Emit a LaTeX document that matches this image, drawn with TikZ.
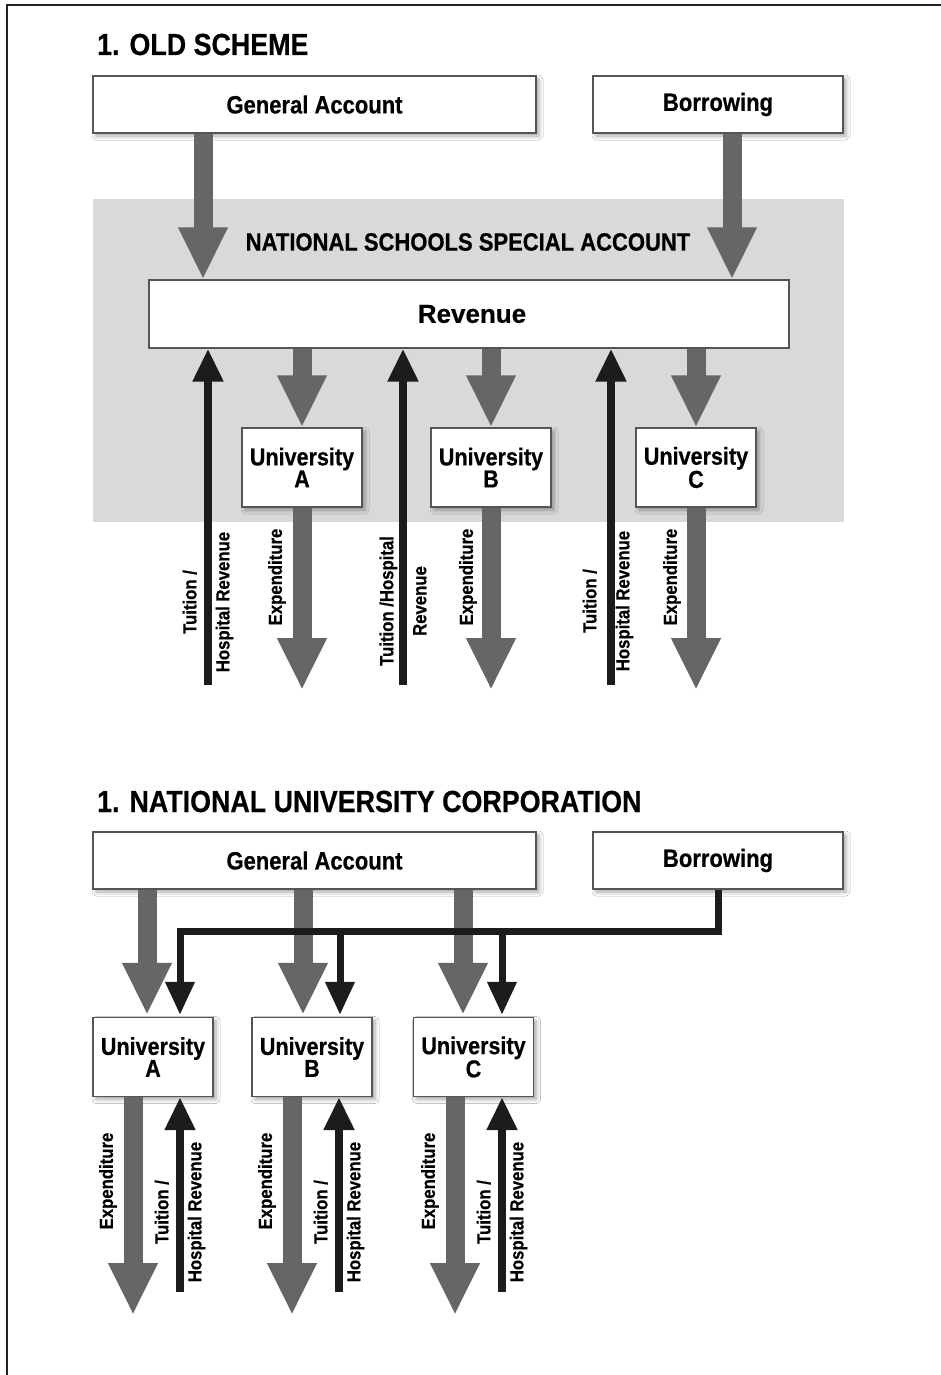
\documentclass[tikz,border=0pt]{standalone}
\usepackage{fontspec}
\setmainfont{Liberation Sans}[FakeStretch=0.88, BoldFeatures={FakeBold=0.5}]
\newfontfamily\widefont{Liberation Sans}[BoldFeatures={FakeBold=0.4}]
\usetikzlibrary{arrows.meta,shadows,shadows.blur}
\definecolor{bggray}{HTML}{D9D9D9}
\definecolor{arrgray}{HTML}{666666}
\definecolor{arrblack}{HTML}{1C1C1C}
\definecolor{boxline}{HTML}{555555}
\definecolor{frame}{HTML}{222222}
\tikzset{
  box/.style={draw=boxline, line width=1.3pt, fill=white, inner sep=0pt,
    blur shadow={shadow xshift=3pt, shadow yshift=-3pt, shadow blur radius=4pt, shadow opacity=35}},
  plainbox/.style={draw=boxline, line width=1.3pt, fill=white, inner sep=0pt},
  boxtext/.style={font=\bfseries\fontsize{25}{28}\selectfont},
  unitext/.style={font=\bfseries\fontsize{24.5}{22}\selectfont, align=center},
  titletext/.style={font=\bfseries\fontsize{30.5}{32}\selectfont, anchor=base west, inner sep=0pt},
  lbl/.style={font=\bfseries\fontsize{19}{33}\selectfont, rotate=90, align=center, inner sep=0pt},
  garrow/.style={draw=arrgray, line width=19pt, -{Triangle[width=46pt,length=52pt]}, arrgray},
  barrow/.style={draw=arrblack, line width=8pt, -{Triangle[width=29pt,length=33pt]}, arrblack},
  bline/.style={draw=arrblack, line width=7pt, line join=miter},
  barrowt/.style={draw=arrblack, line width=7pt, -{Triangle[width=28pt,length=33pt]}, arrblack},
}
\begin{document}
\begin{tikzpicture}[x=1pt,y=-1pt]
\useasboundingbox (0,0) rectangle (941,1375);
\fill[white] (0,0) rectangle (941,1375);
\draw[frame, line width=2.5pt] (941,5) -- (7,5) -- (7,1375);

% ---------- Section 1 ----------
\node[titletext] (t1) at (97,55) {1. OLD SCHEME};
\fill[bggray] (93,199) rectangle (844,522);
\node[font=\bfseries\fontsize{25}{28}\selectfont] (nssa) at (468,242) {NATIONAL SCHOOLS SPECIAL ACCOUNT};

\node[box, minimum width=443pt, minimum height=57pt, boxtext] (ga1) at (314.5,104.5) {General Account};
\node[box, minimum width=250pt, minimum height=57pt, boxtext] (bo1) at (718,104.5) {Borrowing};
\node[plainbox, minimum width=640pt, minimum height=68pt, font=\widefont\bfseries\fontsize{26}{28}\selectfont] (rev) at (469,314) {\hspace*{6pt}Revenue};

\node[box, minimum width=120pt, minimum height=79pt, unitext] (ua1) at (302,467.5) {University\\A};
\node[box, minimum width=120pt, minimum height=79pt, unitext] (ub1) at (491,467.5) {University\\B};
\node[box, minimum width=120pt, minimum height=79pt, unitext] (uc1) at (696,467.5) {University\\C};

\coordinate (g1) at (203,0);
\coordinate (g2) at (732,0);
\draw[garrow] (ga1.south -| g1) -- (rev.north -| g1);
\draw[garrow] (bo1.south -| g2) -- (rev.north -| g2);

\draw[garrow] (rev.south -| ua1) -- (ua1.north);
\draw[garrow] (rev.south -| ub1) -- (ub1.north);
\draw[garrow] (rev.south -| uc1) -- (uc1.north);

\coordinate (ea1) at (302,690);
\coordinate (eb1) at (491,690);
\coordinate (ec1) at (696,690);
\draw[garrow] (ua1.south) -- (ea1);
\draw[garrow] (ub1.south) -- (eb1);
\draw[garrow] (uc1.south) -- (ec1);

\coordinate (ta1) at (208,685);
\coordinate (tb1) at (403,685);
\coordinate (tc1) at (611,685);
\draw[barrow] (ta1) -- (rev.south -| ta1);
\draw[barrow] (tb1) -- (rev.south -| tb1);
\draw[barrow] (tc1) -- (rev.south -| tc1);

\node[lbl] (la1) at (208,602) {Tuition /\\Hospital Revenue};
\node[lbl] (lb1) at (403,601) {Tuition /Hospital\\Revenue};
\node[lbl] (lc1) at (608,601) {Tuition /\\Hospital Revenue};
\node[lbl] (xa1) at (277,577) {Expenditure};
\node[lbl] (xb1) at (468,577) {Expenditure};
\node[lbl] (xc1) at (672,577) {Expenditure};

% ---------- Section 2 ----------
\node[titletext] (t2) at (97,812) {1. NATIONAL UNIVERSITY CORPORATION};
\node[box, minimum width=443pt, minimum height=57pt, boxtext] (ga2) at (314.5,860.5) {General Account};
\node[box, minimum width=250pt, minimum height=57pt, boxtext] (bo2) at (718,860.5) {Borrowing};

\node[box, minimum width=120pt, minimum height=79pt, unitext] (ua2) at (153,1057) {University\\A};
\node[box, minimum width=120pt, minimum height=79pt, unitext] (ub2) at (312,1057) {University\\B};
\node[box, minimum width=120pt, minimum height=79pt, unitext] (uc2) at (473.5,1057) {University\\C};

\coordinate (gA) at (147,0);
\coordinate (gB) at (303,0);
\coordinate (gC) at (463,0);
\draw[garrow] (ga2.south -| gA) -- ([yshift=2pt]ua2.north -| gA);
\draw[garrow] (ga2.south -| gB) -- ([yshift=2pt]ub2.north -| gB);
\draw[garrow] (ga2.south -| gC) -- ([yshift=2pt]uc2.north -| gC);

\coordinate (jA) at (180,931);
\coordinate (jB) at (340,931);
\coordinate (jC) at (502,931);
\draw[bline] (bo2.south) |- (jA);
\draw[barrowt] (jA) -- ([yshift=2pt]ua2.north -| jA);
\draw[barrowt] (jB) -- ([yshift=2pt]ub2.north -| jB);
\draw[barrowt] (jC) -- ([yshift=2pt]uc2.north -| jC);
\draw[bline] ([xshift=-3.5pt]jA) -- ([xshift=3.5pt]jA);

\coordinate (eA) at (133,1315);
\coordinate (eB) at (292,1315);
\coordinate (eC) at (455,1315);
\draw[garrow] (ua2.south -| eA) -- (eA);
\draw[garrow] (ub2.south -| eB) -- (eB);
\draw[garrow] (uc2.south -| eC) -- (eC);

\coordinate (tA) at (180,1292);
\coordinate (tB) at (339,1292);
\coordinate (tC) at (502,1292);
\draw[barrow] (tA) -- (ua2.south -| tA);
\draw[barrow] (tB) -- (ub2.south -| tB);
\draw[barrow] (tC) -- (uc2.south -| tC);

\node[lbl] (lA) at (180,1212) {Tuition /\\Hospital Revenue};
\node[lbl] (lB) at (339,1212) {Tuition /\\Hospital Revenue};
\node[lbl] (lC) at (502,1212) {Tuition /\\Hospital Revenue};
\node[lbl] (xA) at (108,1181) {Expenditure};
\node[lbl] (xB) at (267,1181) {Expenditure};
\node[lbl] (xC) at (430,1181) {Expenditure};
\end{tikzpicture}
\end{document}
